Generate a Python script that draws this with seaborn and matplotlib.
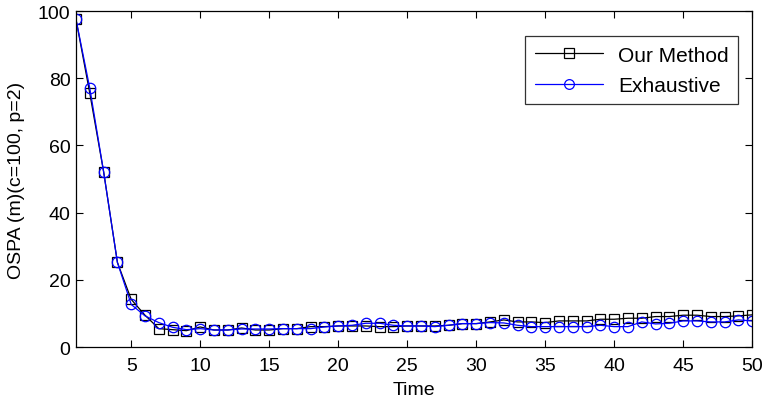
import seaborn as sns
import matplotlib.pyplot as plt
import numpy as np
import pandas as pd

# Datos
time = list(range(1, 51))
our_method = [97.5, 75.5, 52.2, 25.2, 14.2, 9.5, 5.5, 5.2, 4.9, 6.0,
              5.1, 5.1, 5.7, 5.1, 5.1, 5.5, 5.5, 6.1, 6.1, 6.3,
              6.3, 6.3, 6.1, 6.1, 6.3, 6.3, 6.3, 6.5, 7.0, 7.0,
              7.5, 8.1, 7.5, 7.5, 7.3, 7.8, 7.8, 7.8, 8.3, 8.3,
              8.6, 8.6, 9.1, 9.1, 9.5, 9.5, 9.1, 9.1, 9.3, 9.6]
exhaustive = [97.5, 77.0, 52.2, 25.2, 12.7, 9.3, 7.3, 5.9, 5.2, 5.5,
              5.1, 5.1, 5.4, 5.4, 5.4, 5.5, 5.5, 5.5, 6.0, 6.3,
              6.5, 7.1, 7.1, 6.5, 6.3, 6.3, 6.1, 6.5, 7.0, 7.0,
              7.3, 7.2, 6.5, 6.1, 6.1, 6.1, 6.1, 6.1, 6.5, 6.1,
              6.1, 7.5, 6.9, 7.1, 7.8, 7.8, 7.5, 7.5, 8.1, 7.8]

df = pd.DataFrame({
    "Time": time * 2,
    "OSPA": our_method + exhaustive,
    "Method": ["Our Method"] * 50 + ["Exhaustive"] * 50,
})

sns.set_style("white")
plt.rcParams['font.family'] = ['Liberation Sans', 'DejaVu Sans']
plt.rcParams['text.color'] = 'black'
plt.rcParams['axes.labelcolor'] = 'black'
plt.rcParams['xtick.color'] = 'black'
plt.rcParams['ytick.color'] = 'black'

fig = plt.figure(figsize=(7.64, 4.02), dpi=100)
ax = fig.add_axes([0.0995, 0.134, 0.885, 0.836])

sns.lineplot(data=df, x="Time", y="OSPA", hue="Method", style="Method",
             palette={"Our Method": "black", "Exhaustive": "blue"},
             markers={"Our Method": "s", "Exhaustive": "o"},
             dashes=False, linewidth=0.9, markersize=7.5,
             markerfacecolor="none", ax=ax)

# marcadores huecos con el color de la linea
for line in ax.lines:
    line.set_markeredgecolor(line.get_color())
    line.set_markerfacecolor("none")
    line.set_markeredgewidth(0.9)

ax.set_xlim(1, 50)
ax.set_ylim(0, 100)
ax.set_xticks([5, 10, 15, 20, 25, 30, 35, 40, 45, 50])
ax.set_yticks([0, 20, 40, 60, 80, 100])
ax.tick_params(direction="in", length=5, labelsize=14, top=True, right=True,
               bottom=True, left=True, width=0.8, colors="black")
ax.tick_params(axis="x", pad=7)
ax.tick_params(axis="y", pad=4)
ax.set_xlabel("Time", fontsize=14, labelpad=5)
ax.set_ylabel("OSPA (m)(c=100, p=2)", fontsize=14, labelpad=9)
for s in ax.spines.values():
    s.set_color("black")
    s.set_linewidth(0.9)

leg = ax.legend(loc="upper right", fontsize=15, frameon=True, fancybox=False,
                edgecolor="black", handlelength=3.3, borderaxespad=0,
                bbox_to_anchor=(0.979, 0.925), borderpad=0.45,
                labelspacing=0.55, handletextpad=0.7)
leg.get_frame().set_linewidth(0.9)
for h in leg.legend_handles:
    h.set_markerfacecolor("none")
    h.set_markeredgecolor(h.get_color())
    h.set_markersize(7)

fig.savefig("out.png", dpi=100)
